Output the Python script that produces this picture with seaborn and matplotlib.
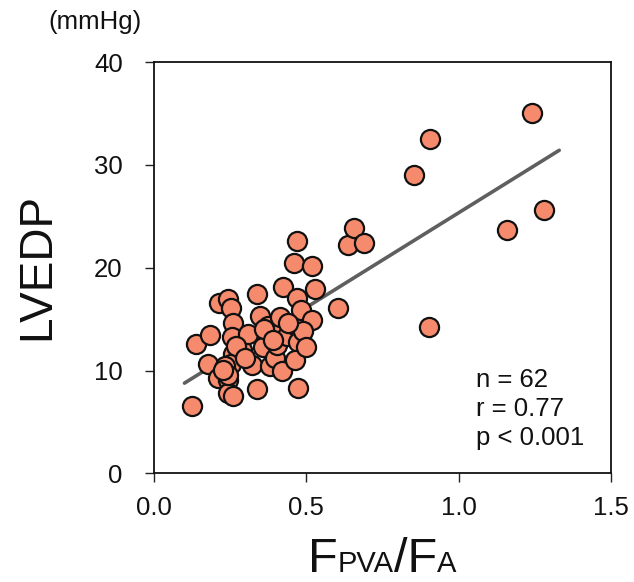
import numpy as np
import pandas as pd
import matplotlib
matplotlib.use("Agg")
import matplotlib.pyplot as plt
import seaborn as sns
from matplotlib.offsetbox import TextArea, HPacker, AnchoredOffsetbox

# ---- data ----
fpva_fa = [0.126, 0.137, 0.176, 0.184, 0.211, 0.214, 0.242, 0.252, 0.242, 0.244,
           0.258, 0.260, 0.255, 0.260, 0.252, 0.233, 0.244, 0.288, 0.310, 0.321,
           0.337, 0.337, 0.348, 0.359, 0.375, 0.381, 0.403, 0.397, 0.403, 0.414,
           0.419, 0.424, 0.435, 0.463, 0.468, 0.469, 0.459, 0.520, 0.528, 0.482,
           0.517, 0.474, 0.463, 0.474, 0.605, 0.638, 0.657, 0.689, 0.490, 0.227,
           0.270, 0.360, 0.440, 0.390, 0.500, 0.300,
           1.240, 0.906, 0.853, 1.280, 1.160, 0.903]
lvedp = [6.6, 12.6, 10.6, 13.5, 9.3, 16.6, 17.0, 16.1, 9.1, 7.8,
         7.5, 14.6, 13.3, 11.6, 10.6, 10.4, 9.6, 12.0, 13.6, 10.5,
         8.2, 17.4, 15.3, 12.3, 14.3, 10.4, 13.6, 11.2, 12.5, 15.2,
         10.0, 18.1, 13.4, 14.4, 17.1, 22.6, 20.5, 20.2, 17.9, 15.9,
         14.9, 12.8, 11.0, 8.3, 16.1, 22.2, 23.9, 22.4, 13.8, 10.1,
         12.4, 14.0, 14.6, 13.0, 12.3, 11.2,
         35.0, 32.5, 29.0, 25.6, 23.7, 14.2]
stats_lines = ["n = 62", "r = 0.77", "p < 0.001"]
x_ticks = [0.0, 0.5, 1.0, 1.5]
x_ticklabels = ["0.0", "0.5", "1.0", "1.5"]
y_ticks = [0, 10, 20, 30, 40]
fit_range = [0.10, 1.33]

df = pd.DataFrame({"x": fpva_fa, "y": lvedp})
slope, intercept = np.polyfit(df["x"], df["y"], 1)
line_df = pd.DataFrame({"x": fit_range})
line_df["y"] = intercept + slope * line_df["x"]

# ---- style ----
sns.set_theme(style="white")
plt.rcParams["font.family"] = ["Liberation Sans", "DejaVu Sans"]

fig = plt.figure(figsize=(6.34, 5.82), dpi=100)
ax = fig.add_axes([154 / 634, 1 - 473.4 / 582, (611 - 154) / 634, (473.4 - 62) / 582])

sns.lineplot(data=line_df, x="x", y="y", ax=ax, color="#5f5f5f", linewidth=2.6, zorder=3)
sns.scatterplot(data=df, x="x", y="y", ax=ax, s=190, color="#F58A6C",
                edgecolor="#111111", linewidth=1.6, zorder=4, legend=False)

ax.set_xlim(0, 1.5)
ax.set_ylim(0, 40)
ax.set_xticks(x_ticks)
ax.set_xticklabels(x_ticklabels)
ax.set_yticks(y_ticks)
ax.tick_params(axis="both", direction="out", length=6.5, width=1.0, color="#222222",
               labelsize=18.5, labelcolor="#111111", left=True, bottom=True)
ax.tick_params(axis="y", pad=16)
ax.tick_params(axis="x", pad=10)
for sp in ax.spines.values():
    sp.set_visible(True)
    sp.set_color("#111111")
    sp.set_linewidth(1.3)

ax.set_xlabel("")
ax.set_ylabel("")
fig.text(37 / 634, 1 - 267 / 582, "LVEDP", rotation=90, fontsize=33,
         ha="center", va="center", color="#111111")
fig.text(95 / 634, 1 - 22 / 582, "(mmHg)", fontsize=18.5, ha="center", va="center",
         color="#111111")

# x label: F_PVA / F_A with smaller, baseline-aligned letters
parts = [("F", 35), ("PVA", 21), ("/F", 35), ("A", 21)]
boxes = [TextArea(t, textprops=dict(fontsize=fs, color="#111111")) for t, fs in parts]
pack = HPacker(children=boxes, align="baseline", pad=0, sep=0)
anch = AnchoredOffsetbox(loc="center", child=pack, frameon=False,
                         bbox_to_anchor=(382 / 634, 1 - 559 / 582),
                         bbox_transform=fig.transFigure, borderpad=0, pad=0)
fig.add_artist(anch)

for i, s in enumerate(stats_lines):
    fig.text(476 / 634, 1 - (380 + 29 * i) / 582, s, fontsize=18.5, ha="left",
             va="center", color="#111111")

fig.savefig("out.png", dpi=100)
